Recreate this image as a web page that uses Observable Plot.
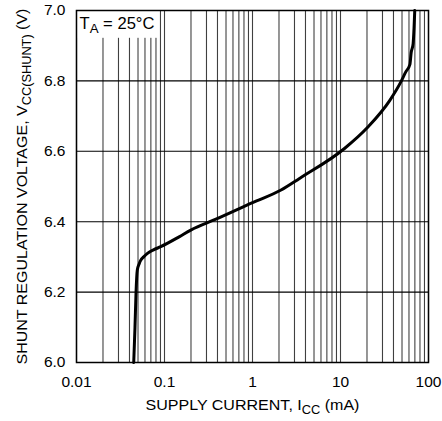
<!DOCTYPE html>
<html><head><meta charset="utf-8">
<script src="https://cdn.jsdelivr.net/npm/d3@7"></script>
<script src="https://cdn.jsdelivr.net/npm/@observablehq/plot@0.6"></script>
<style>
body{margin:0;background:#fff;}
</style></head><body><div id="chart"></div>
<script>
// Supply current (mA) vs shunt regulation voltage (V), TA = 25°C
const currentMA = [0.0447, 0.0462, 0.0475, 0.0491, 0.0515, 0.0536, 0.058, 0.064, 0.075, 0.0906, 0.1466, 0.199, 0.384, 1.0, 2.11, 3.42, 11.1, 20.5, 36.2, 49.2, 55, 61.5, 63.5, 66.9, 68.5, 69.8];
const voltageV  = [6.00, 6.10, 6.20, 6.263, 6.28, 6.29, 6.30, 6.31, 6.32, 6.329, 6.357, 6.376, 6.407, 6.454, 6.49, 6.523, 6.608, 6.669, 6.744, 6.80, 6.825, 6.847, 6.88, 6.906, 6.95, 7.0];

const xTickValues = [0.01, 0.1, 1, 10, 100];
const xTickLabels = ["0.01", "0.1", "1", "10", "100"];
const yTickValues = [6.0, 6.2, 6.4, 6.6, 6.8, 7.0];
const yTickLabels = ["6.0", "6.2", "6.4", "6.6", "6.8", "7.0"];
const decades = [0.01, 0.1, 1, 10];
const multipliers = [1, 2, 3, 4, 5, 6, 7, 8, 9];

const xTitle = "SUPPLY CURRENT, I_{CC} (mA)";
const yTitle = "SHUNT REGULATION VOLTAGE, V_{CC(SHUNT)} (V)";
const noteText = ["T_{A} = 25°C"];
const noteBoxX = [0.01, 0.088];
const noteBoxY = [6.921, 7.0];

const data = currentMA.map((x, i) => ({x, y: voltageV[i]}));
const xGrid = decades.flatMap(d => multipliers.map(m => +(d * m).toPrecision(3))).concat([100]);
const noteBox = [{x1: noteBoxX[0], x2: noteBoxX[1], y1: noteBoxY[0], y2: noteBoxY[1], label: noteText[0]}];

const plot = Plot.plot({
  width: 442, height: 421,
  marginLeft: 76, marginRight: 14, marginTop: 10, marginBottom: 59,
  style: {fontSize: "15.5px", fontFamily: "'Liberation Sans', Arial, sans-serif", color: "#000", background: "#fff"},
  x: {type: "log", domain: [0.01, 100], ticks: xTickValues,
      tickFormat: d => xTickLabels[xTickValues.indexOf(d)], tickSize: 0, tickPadding: 13, label: null},
  y: {domain: [6, 7], ticks: yTickValues,
      tickFormat: d => yTickLabels[yTickValues.findIndex(v => Math.abs(v - d) < 1e-9)], tickSize: 0, tickPadding: 11, label: null},
  marks: [
    Plot.ruleX(xGrid, {stroke: "#000", strokeOpacity: 0.75, strokeWidth: 1.1}),
    Plot.ruleY(yTickValues, {stroke: "#000", strokeWidth: 1.1}),
    Plot.rect(noteBox, {x1: "x1", x2: "x2", y1: "y1", y2: "y2", fill: "#fff"}),
    Plot.text(noteBox, {x: "x1", y: "y2", text: "label", textAnchor: "start", lineAnchor: "top", dx: 3, dy: 7, fontSize: 16}),
    Plot.line(data, {x: "x", y: "y", curve: "monotone-x", stroke: "#000", strokeWidth: 3}),
    Plot.frame({stroke: "#000", strokeWidth: 1.5}),
    Plot.text([xTitle], {frameAnchor: "bottom", textAnchor: "middle", lineAnchor: "middle", dy: 43, text: d => d, fontSize: 15.5}),
    Plot.text([yTitle], {frameAnchor: "left", textAnchor: "middle", lineAnchor: "middle", rotate: -90, dx: -54, text: d => d, fontSize: 15})
  ]
});
document.getElementById("chart").appendChild(plot);

// render _{...} as subscripts and stretch titles to the reference's lengths
const fitLengths = new Map([[xTitle, 214], [yTitle, 356], [noteText[0], 75]]);
d3.select(plot).selectAll("text").each(function() {
  const t = this.textContent;
  if (!t.includes("_{")) return;
  const el = d3.select(this);
  el.selectAll("*").remove();
  el.text("");
  const parts = t.split(/(_\{[^}]*\})/).filter(p => p);
  let afterSub = false;
  parts.forEach(p => {
    const m = p.match(/^_\{(.*)\}$/);
    if (m) { el.append("tspan").attr("dy", "0.3em").attr("font-size", "0.8em").text(m[1]); afterSub = true; }
    else { const ts = el.append("tspan").text(p); if (afterSub) { ts.attr("dy", "-0.24em"); afterSub = false; } }
  });
  if (fitLengths.has(t)) {
    const w = this.getBBox().width;
    if (w > 0) {
      const sx = fitLengths.get(t) / w;
      const prev = this.getAttribute("transform") || "";
      this.setAttribute("transform", `${prev} scale(${sx.toFixed(4)},1)`);
    }
  }
});
</script></body></html>
